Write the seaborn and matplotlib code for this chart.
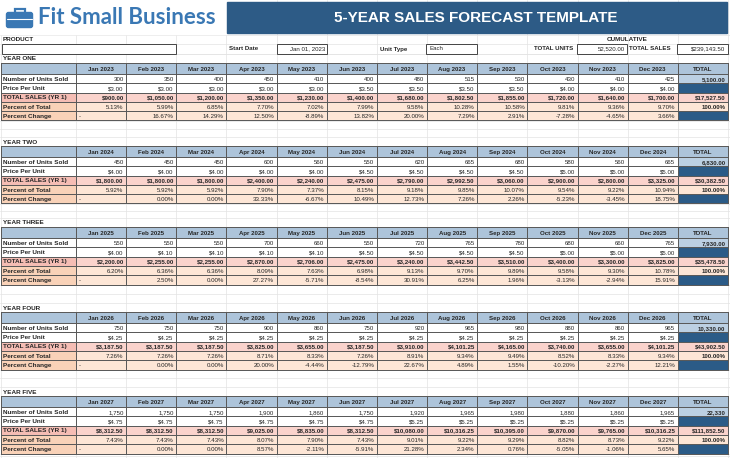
import matplotlib

matplotlib.use("Agg")

import matplotlib.pyplot as plt
import numpy as np
import seaborn as sns
from matplotlib.colors import ListedColormap
from matplotlib.patches import FancyBboxPatch, Rectangle

months = ["Jan", "Feb", "Mar", "Apr", "May", "Jun", "Jul", "Aug", "Sep", "Oct", "Nov", "Dec"]
years = [2023, 2024, 2025, 2026, 2027]
year_names = ["YEAR ONE", "YEAR TWO", "YEAR THREE", "YEAR FOUR", "YEAR FIVE"]
row_labels = ["Number of Units Sold", "Price Per Unit", "TOTAL SALES (YR 1)", "Percent of Total", "Percent Change"]

units_y1 = [300, 350, 400, 450, 410, 400, 480, 515, 530, 430, 410, 425]
price_y1 = [3.00, 3.00, 3.00, 3.00, 3.00, 3.50, 3.50, 3.50, 3.50, 4.00, 4.00, 4.00]
sales_y1 = [900.00, 1050.00, 1200.00, 1350.00, 1230.00, 1400.00, 1680.00, 1802.50, 1855.00, 1720.00, 1640.00, 1700.00]
share_y1 = [5.13, 5.99, 6.85, 7.70, 7.02, 7.99, 9.58, 10.28, 10.58, 9.81, 9.36, 9.70]
change_y1 = [None, 16.67, 14.29, 12.50, -8.89, 13.82, 20.00, 7.29, 2.91, -7.28, -4.65, 3.66]

units_y2 = [450, 450, 450, 600, 560, 550, 620, 665, 680, 580, 560, 665]
price_y2 = [4.00, 4.00, 4.00, 4.00, 4.00, 4.50, 4.50, 4.50, 4.50, 5.00, 5.00, 5.00]
sales_y2 = [1800.00, 1800.00, 1800.00, 2400.00, 2240.00, 2475.00, 2790.00, 2992.50, 3060.00, 2900.00, 2800.00, 3325.00]
share_y2 = [5.92, 5.92, 5.92, 7.90, 7.37, 8.15, 9.18, 9.85, 10.07, 9.54, 9.22, 10.94]
change_y2 = [None, 0.00, 0.00, 33.33, -6.67, 10.49, 12.73, 7.26, 2.26, -5.23, -3.45, 18.75]

units_y3 = [550, 550, 550, 700, 660, 550, 720, 765, 780, 680, 660, 765]
price_y3 = [4.00, 4.10, 4.10, 4.10, 4.10, 4.50, 4.50, 4.50, 4.50, 5.00, 5.00, 5.00]
sales_y3 = [2200.00, 2255.00, 2255.00, 2870.00, 2706.00, 2475.00, 3240.00, 3442.50, 3510.00, 3400.00, 3300.00, 3825.00]
share_y3 = [6.20, 6.36, 6.36, 8.09, 7.63, 6.98, 9.13, 9.70, 9.89, 9.58, 9.30, 10.78]
change_y3 = [None, 2.50, 0.00, 27.27, -5.71, -8.54, 30.91, 6.25, 1.96, -3.13, -2.94, 15.91]

units_y4 = [750, 750, 750, 900, 860, 750, 920, 965, 980, 880, 860, 965]
price_y4 = [4.25, 4.25, 4.25, 4.25, 4.25, 4.25, 4.25, 4.25, 4.25, 4.25, 4.25, 4.25]
sales_y4 = [3187.50, 3187.50, 3187.50, 3825.00, 3655.00, 3187.50, 3910.00, 4101.25, 4165.00, 3740.00, 3655.00, 4101.25]
share_y4 = [7.26, 7.26, 7.26, 8.71, 8.33, 7.26, 8.91, 9.34, 9.49, 8.52, 8.33, 9.34]
change_y4 = [None, 0.00, 0.00, 20.00, -4.44, -12.79, 22.67, 4.89, 1.55, -10.20, -2.27, 12.21]

units_y5 = [1750, 1750, 1750, 1900, 1860, 1750, 1920, 1965, 1980, 1880, 1860, 1965]
price_y5 = [4.75, 4.75, 4.75, 4.75, 4.75, 4.75, 5.25, 5.25, 5.25, 5.25, 5.25, 5.25]
sales_y5 = [8312.50, 8312.50, 8312.50, 9025.00, 8835.00, 8312.50, 10080.00, 10316.25, 10395.00, 9870.00, 9765.00, 10316.25]
share_y5 = [7.43, 7.43, 7.43, 8.07, 7.90, 7.43, 9.01, 9.22, 9.29, 8.82, 8.73, 9.22]
change_y5 = [None, 0.00, 0.00, 8.57, -2.11, -5.91, 21.28, 2.34, 0.76, -5.05, -1.06, 5.65]

units_total = ["5,100.00", "6,830.00", "7,930.00", "10,330.00", "22,330"]
sales_total = [17527.50, 30382.50, 35478.50, 43902.50, 111852.50]

start_date = "Jan 01, 2023"
unit_type = "Each"
cum_units = 52520.00
cum_sales = 239143.50

blocks = [
    (units_y1, price_y1, sales_y1, share_y1, change_y1),
    (units_y2, price_y2, sales_y2, share_y2, change_y2),
    (units_y3, price_y3, sales_y3, share_y3, change_y3),
    (units_y4, price_y4, sales_y4, share_y4, change_y4),
    (units_y5, price_y5, sales_y5, share_y5, change_y5),
]

# layout, in pixels of the 730x458 sheet
W, H = 730, 458
X0, LABEL_W, X1, CW = 1, 75, 76, 50.15
HEAD_H, RH = 11, 9.3
block_y = [59, 142, 223, 308, 392]

# cell colours
cell_colors = ["#ffffff", "#adc4da", "#2b5b87", "#fad3cc", "#f5bdb4", "#fde6d6", "#f9d2b8", "#bcd0e3"]
WHITE, HEAD, NAVY, PINK, PINK_L, PEACH, PEACH_L, TOT_BLUE = range(len(cell_colors))
cell_cmap = ListedColormap(cell_colors)
BORDER = "#5a5a5a"
TXT = "#262626"
BANNER = "#2d5b86"
LOGO = "#3a78b4"
FS = 4.4
FS_LAB = 4.6

sns.set_style("white")
plt.rcParams["font.family"] = ["Liberation Sans", "DejaVu Sans"]

fig = plt.figure(figsize=(W / 100, H / 100), dpi=100)


def px_axes(x, y, w, h):
    return fig.add_axes([x / W, 1 - (y + h) / H, w / W, h / H])


def grid(x, y, cell_w, h, codes, texts, aligns, weights, size=FS):
    codes = np.array(codes)
    nrow, ncol = codes.shape
    ax = px_axes(x, y, cell_w * ncol, h)
    sns.heatmap(codes, ax=ax, cmap=cell_cmap, vmin=-0.5, vmax=len(cell_colors) - 0.5,
                cbar=False, linewidths=0.6, linecolor=BORDER,
                xticklabels=False, yticklabels=False)
    ax.collections[0].set_clip_on(False)
    pad = 2.5 / cell_w
    base = 2.2 / (h / nrow)  # baseline a little below the row centre
    for i in range(nrow):
        for j in range(ncol):
            t = texts[i][j]
            if not t:
                continue
            ha = aligns[i][j]
            xp = {"left": j + pad, "right": j + 1 - pad, "center": j + 0.5}[ha]
            ax.text(xp, i + 0.5 + base, t, ha=ha, va="baseline", fontsize=size,
                    fontweight=weights[i][j], color=TXT)
    return ax


bg = px_axes(0, 0, W, H)
bg.set_xlim(0, W)
bg.set_ylim(H, 0)
bg.axis("off")

# faint spreadsheet gridlines
for k in range(14):
    bg.axvline(X1 + CW * k, color="#e3e3e3", lw=0.5, zorder=0)
bg.axvline(X0, color="#e3e3e3", lw=0.5, zorder=0)
hlines = [35, 44, 53.5]
for i, ly in enumerate(block_y):
    hlines += [ly - 5]
    end = ly + 15 + 5 * RH
    nxt = block_y[i + 1] - 5 if i + 1 < len(block_y) else H
    hlines += [end, (end + nxt) / 2]
for yy in hlines:
    bg.axhline(yy, color="#e3e3e3", lw=0.5, zorder=0)

# logo and banner
bg.add_patch(Rectangle((227, 2), 500, 31, color=BANNER, zorder=2))
bg.text(476, 18, "5-YEAR SALES FORECAST TEMPLATE", color="white", fontsize=11,
        fontweight="bold", ha="center", va="center", zorder=3)
bg.add_patch(Rectangle((0, 0), 226, 34, color="white", zorder=1))
bg.add_patch(FancyBboxPatch((7, 13), 25, 14, boxstyle="round,pad=0.5,rounding_size=2",
                            color=LOGO, zorder=3))
bg.add_patch(Rectangle((14.5, 8.5), 10, 4.5, fill=False, edgecolor=LOGO, lw=1.6, zorder=3))
bg.plot([7, 32], [18.5, 18.5], color="white", lw=0.8, zorder=4)
bg.text(38, 18, "Fit Small Business", color=LOGO, fontsize=16, fontweight="bold",
        family=["Lato", "DejaVu Sans"], ha="left", va="center", zorder=3)

# info line
bg.text(3, 39.5, "PRODUCT", fontsize=FS_LAB, fontweight="bold", color=TXT, va="center")
bg.text(627, 39.5, "CUMULATIVE", fontsize=FS_LAB, fontweight="bold", color=TXT, va="center", ha="center")
for bx, bw in [(2, 174), (277, 50), (426, 51), (577, 50), (677, 50.5)]:
    bg.add_patch(Rectangle((bx, 44), bw, 9.5, facecolor="white", edgecolor="#444444", lw=0.7, zorder=2))
info = [
    (229, "Start Date", "left", "bold"),
    (325, start_date, "right", "normal"),
    (380, "Unit Type", "left", "bold"),
    (429, unit_type, "left", "normal"),
    (573, "TOTAL UNITS", "right", "bold"),
    (625, f"{cum_units:,.2f}", "right", "normal"),
    (629, "TOTAL SALES", "left", "bold"),
    (725.5, f"${cum_sales:,.2f}", "right", "normal"),
]
for ix, t, ha, wt in info:
    bg.text(ix, 49, t, fontsize=FS, fontweight=wt, color=TXT, ha=ha, va="center", zorder=3)

# the five yearly tables
for b, (units, price, sales, share, change) in enumerate(blocks):
    ly = block_y[b]
    yr = years[b]
    bg.text(3, ly, year_names[b], fontsize=FS_LAB, fontweight="bold", color=TXT, va="center")

    grid(X0, ly + 4, LABEL_W, HEAD_H, [[HEAD]], [[""]], [["left"]], [["bold"]])
    head_txt = [f"{m} {yr}" for m in months] + ["TOTAL"]
    grid(X1, ly + 4, CW, HEAD_H, [[HEAD] * 13], [head_txt], [["center"] * 13], [["bold"] * 13])

    grid(X0, ly + 15, LABEL_W, 5 * RH,
         [[WHITE], [WHITE], [PINK_L], [PEACH_L], [PEACH_L]],
         [[r] for r in row_labels], [["left"]] * 5, [["bold"]] * 5, size=FS_LAB)

    codes = [
        [WHITE] * 12 + [TOT_BLUE],
        [WHITE] * 12 + [NAVY],
        [PINK] * 12 + [PINK],
        [PEACH] * 12 + [PEACH],
        [PEACH] * 12 + [NAVY],
    ]
    texts = [
        [f"{v:,}" for v in units] + [units_total[b]],
        [f"${v:,.2f}" for v in price] + [""],
        [f"${v:,.2f}" for v in sales] + [f"${sales_total[b]:,.2f}"],
        [f"{v:.2f}%" for v in share] + ["100.00%"],
        ["-" if v is None else f"{v:.2f}%" for v in change] + [""],
    ]
    aligns = [["right"] * 13 for _ in range(5)]
    aligns[4][0] = "left"
    weights = [["normal"] * 12 + ["bold"] for _ in range(5)]
    weights[2] = ["bold"] * 13
    grid(X1, ly + 15, CW, 5 * RH, codes, texts, aligns, weights)

fig.savefig("out.png", dpi=100)
